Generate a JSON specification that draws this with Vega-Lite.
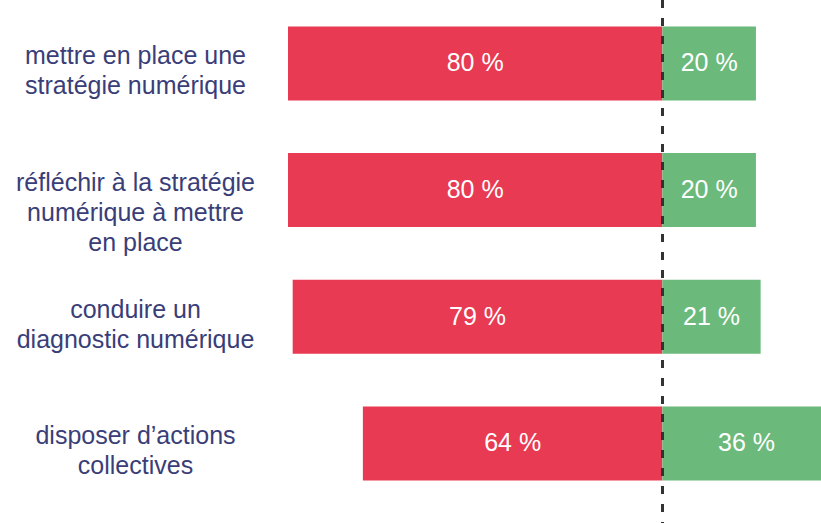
{
  "$schema": "https://vega.github.io/schema/vega-lite/v6.json",
  "width": 533,
  "height": 523,
  "autosize": {"type": "none"},
  "padding": {"left": 288, "top": 0, "right": 0, "bottom": 0},
  "background": "white",
  "config": {"view": {"stroke": null}},
  "data": {
    "values": [
      {"question": "mettre en place une|stratégie numérique", "reponse": "non", "pct": 80},
      {"question": "mettre en place une|stratégie numérique", "reponse": "oui", "pct": 20},
      {"question": "réfléchir à la stratégie|numérique à mettre|en place", "reponse": "non", "pct": 80},
      {"question": "réfléchir à la stratégie|numérique à mettre|en place", "reponse": "oui", "pct": 20},
      {"question": "conduire un|diagnostic numérique", "reponse": "non", "pct": 79},
      {"question": "conduire un|diagnostic numérique", "reponse": "oui", "pct": 21},
      {"question": "disposer d’actions|collectives", "reponse": "non", "pct": 64},
      {"question": "disposer d’actions|collectives", "reponse": "oui", "pct": 36}
    ]
  },
  "transform": [
    {"calculate": "datum.reponse == 'non' ? -datum.pct : datum.pct", "as": "signed"},
    {"calculate": "datum.signed / 2", "as": "mid"},
    {"calculate": "datum.pct + ' %'", "as": "etiquette"}
  ],
  "layer": [
    {
      "mark": {"type": "bar", "clip": true},
      "encoding": {
        "y": {
          "field": "question",
          "type": "nominal",
          "sort": null,
          "scale": {"paddingInner": 0.416, "paddingOuter": 0.272, "align": 0.383},
          "axis": {
            "title": null,
            "domain": false,
            "ticks": false,
            "labelExpr": "split(datum.value, '|')",
            "labelAlign": "center",
            "labelBaseline": "middle",
            "labelPadding": 153,
            "labelOffset": -7,
            "labelFont": "Liberation Sans",
            "labelFontSize": 25,
            "labelLineHeight": 30,
            "labelColor": "#3A3E78",
            "labelLimit": 300
          }
        },
        "x": {"field": "signed", "type": "quantitative", "scale": {"domain": [-80, 33.9], "nice": false, "zero": false}, "axis": null},
        "x2": {"datum": 0},
        "color": {
          "field": "reponse",
          "type": "nominal",
          "scale": {"domain": ["non", "oui"], "range": ["#E83A52", "#6BB97B"]},
          "legend": null
        }
      }
    },
    {
      "mark": {"type": "text", "color": "white", "font": "Liberation Sans", "fontSize": 25, "align": "center", "baseline": "middle"},
      "encoding": {
        "y": {"field": "question", "type": "nominal", "sort": null},
        "x": {"field": "mid", "type": "quantitative"},
        "text": {"field": "etiquette", "type": "nominal"}
      }
    },
    {
      "mark": {"type": "rule", "color": "#333333", "strokeWidth": 2.2, "strokeDash": [8, 10]},
      "encoding": {
        "x": {"datum": 0, "type": "quantitative"}
      }
    }
  ]
}
